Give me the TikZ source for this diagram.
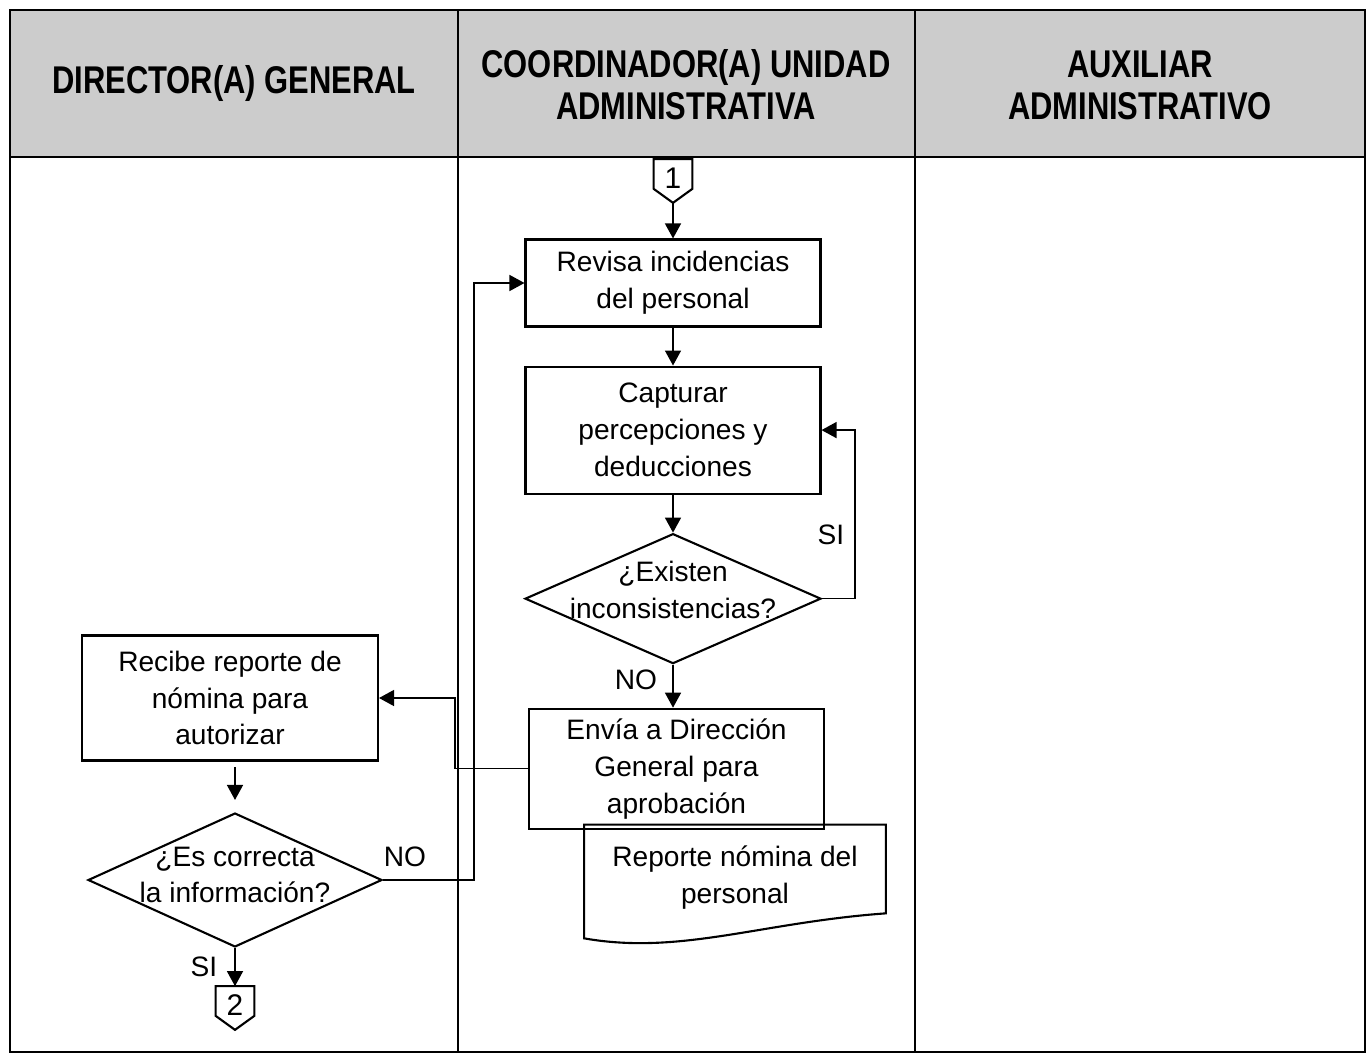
\documentclass[tikz,border=0pt]{standalone}
\usepackage{fontspec}
\setmainfont{Liberation Sans}
\newfontfamily\headfont{Liberation Sans}[FakeStretch=0.8]
\usepackage{tikz}
\usetikzlibrary{positioning,calc,shapes.geometric,arrows.meta}
\definecolor{hdrgray}{RGB}{204,204,204}

\begin{document}
\begin{tikzpicture}[
x=0.02cm, y=-0.02cm,
node distance=1cm,
lane/.style={
draw,
line width=1.4pt
},
title/.style={
align=center,
font=\headfont\bfseries\fontsize{22}{24}\selectfont
},
proc/.style={
draw,
line width=1.2pt,
align=center,
minimum width=5.9cm,
font=\fontsize{16}{21}\selectfont
},
decision/.style={
draw,
diamond,
line width=1.2pt,
inner sep=0pt,
minimum width=5.92cm,
minimum height=2.6cm
},
txt/.style={
align=center,
inner sep=1pt,
font=\fontsize{16}{21}\selectfont
},
offpage/.style={
inner sep=0pt,
minimum width=0.76cm,
minimum height=0.86cm,
font=\fontsize{17}{20}\selectfont
},
arrow/.style={
-{Triangle[length=0.3cm,width=0.32cm]},
line width=0.8pt
}
]

\useasboundingbox (0,0) rectangle (1371,1057);


% Swimlanes

\fill[hdrgray] (10,10) rectangle (1365,157);
\draw[lane] (10,10) rectangle (1365,1052);
\draw[lane] (10,157) -- (1365,157);
\draw[lane] (458,10) -- (458,1052);
\draw[lane] (915,10) -- (915,1052);

\node (lane1) [title] at (234,84) {DIRECTOR(A) GENERAL};
\node (lane2) [title] at (686,85) {COORDINADOR(A) UNIDAD\\ADMINISTRATIVA};
\node (lane3) [title] at (1140,85) {AUXILIAR\\ADMINISTRATIVO};


% Coordinador(a)

\node (c1) [offpage] at (673,181) {\raisebox{3pt}{1}};
\draw[line width=1.2pt] (c1.north west) -- (c1.north east)
  -- ($(c1.south east)+(0,-14)$) -- (c1.south)
  -- ($(c1.south west)+(0,-14)$) -- cycle;

\node (revisa) [proc, minimum height=1.74cm] at (673,283)
{Revisa incidencias\\
del personal};

\node (captura) [proc, minimum height=2.54cm, below=0.76cm of revisa]
{Capturar\\
percepciones y\\
deducciones};

\node (dec1) [decision, below=0.76cm of captura] {};
\node (dec1txt) [txt, yshift=0.18cm] at (dec1) {¿Existen\\inconsistencias?};

\node (envia) [proc, minimum height=2.4cm, below=0.86cm of dec1, xshift=2pt]
{Envía a Dirección\\
General para\\
aprobación};

\node (rep) [txt, minimum width=6.02cm, minimum height=1.76cm] at (735,878)
{Reporte nómina del\\
personal};
\draw[line width=1.2pt] ($(rep.north west)+(0,-9)$) -- ($(rep.north east)+(0,-9)$)
  -- ($(rep.south east)+(0,-9)$)
  .. controls +(-125,9) and +(96,17) .. ($(rep.south west)+(0,16)$)
  -- cycle;


% Director(a)

\node (recibe) [proc, minimum width=5.92cm, minimum height=2.5cm] at (230,698)
{Recibe reporte de\\
nómina para\\
autorizar};

\node (dec2) [decision, minimum width=5.88cm, minimum height=2.68cm] at (235,880) {};
\node (dec2txt) [txt, yshift=0.1cm] at (dec2) {¿Es correcta\\la información?};

\node (c2) [offpage] at (235,1008) {\raisebox{3pt}{2}};
\draw[line width=1.2pt] (c2.north west) -- (c2.north east)
  -- ($(c2.south east)+(0,-14)$) -- (c2.south)
  -- ($(c2.south west)+(0,-14)$) -- cycle;


% Labels

\node (si1) [txt] at (831,535) {SI};
\node (no1) [txt] at (636,680) {NO};
\node (no2) [txt] at (405,857) {NO};
\node (si2) [txt] at (204,967) {SI};


% Connectors

\draw[arrow] (c1.south) -- (revisa);
\draw[arrow] (revisa) -- (captura);
\draw[arrow] (captura) -- (dec1);
\draw[arrow] (dec1) -- (dec1 |- envia.north);
\draw[arrow] (dec1.east) -- ++(33,0) |- (captura.east);
\draw[arrow] (envia.west) -- ++(-73,0) |- (recibe.east);
\draw[arrow, shorten <=3pt, shorten >=0.24cm] (dec2.north |- recibe.south) -- (dec2.north);
\draw[arrow] (dec2.east) -- ++(91,0) |- (revisa.west);
\draw[arrow] (dec2.south) -- (c2.north);


\end{tikzpicture}
\end{document}
